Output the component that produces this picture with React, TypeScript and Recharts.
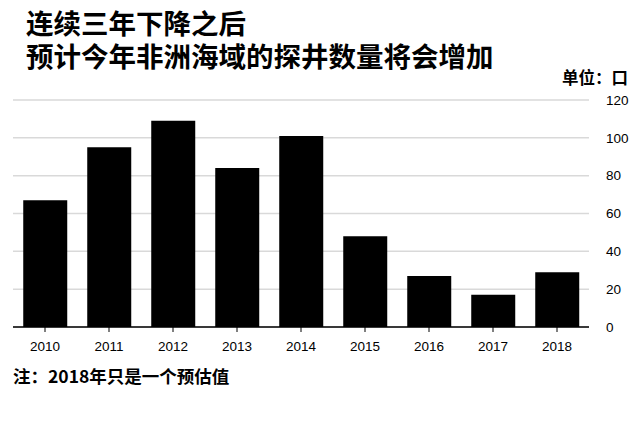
import { BarChart, Bar, XAxis, YAxis, CartesianGrid } from 'recharts';

const YEARS = ['2010', '2011', '2012', '2013', '2014', '2015', '2016', '2017', '2018'];
const WELLS = [67, 95, 109, 84, 101, 48, 27, 17, 29];
const Y_TICKS = [0, 20, 40, 60, 80, 100, 120];

const TITLE_1 = '连续三年下降之后';
const TITLE_2 = '预计今年非洲海域的探井数量将会增加';
const UNIT = '单位：口';
const NOTE = '注：2018年只是一个预估值';

const chartData = YEARS.map((year, i) => ({ year, wells: WELLS[i] }));

const cjk = '"Noto Sans CJK SC", "Noto Sans", sans-serif';
const latin = '"Liberation Sans", Arial, sans-serif';

export default function App() {
    return (
        <div style={{ position: 'absolute', left: 0, top: 0, width: 643, height: 424, background: '#fff', overflow: 'hidden' }}>
            <svg width={643} height={80} style={{ position: 'absolute', left: 0, top: 0 }}>
                <text x={26} y={34} fontFamily={cjk} fontWeight={700} fontSize={27.5} fill="#000">{TITLE_1}</text>
                <text x={26} y={67} fontFamily={cjk} fontWeight={700} fontSize={27.5} fill="#000">{TITLE_2}</text>
            </svg>
            <div style={{ position: 'absolute', left: 562, top: 65, fontFamily: cjk, fontWeight: 700, fontSize: 16.5, color: '#000' }}>
                {UNIT}
            </div>
            <BarChart
                width={643}
                height={424}
                data={chartData}
                margin={{ top: 100, right: 0, left: 13, bottom: 67 }}
                barCategoryGap="16%"
                style={{ position: 'absolute', left: 0, top: 0 }}
            >
                <CartesianGrid vertical={false} stroke="#d9d9d9" strokeWidth={1.5} />
                <XAxis
                    dataKey="year"
                    height={30}
                    axisLine={{ stroke: '#000', strokeWidth: 1.5 }}
                    tickLine={{ stroke: '#000' }}
                    tickSize={5}
                    tickMargin={9}
                    tick={{ fill: '#000', fontSize: 13.5, fontFamily: latin }}
                    interval={0}
                />
                <YAxis
                    orientation="right"
                    width={54}
                    domain={[0, 120]}
                    ticks={Y_TICKS}
                    axisLine={false}
                    tickLine={false}
                    tickMargin={11}
                    tick={{ fill: '#000', fontSize: 13.5, fontFamily: latin, textAnchor: 'start' }}
                />
                <Bar dataKey="wells" fill="#000" isAnimationActive={false} />
            </BarChart>
            <div style={{ position: 'absolute', left: 13, top: 363, fontFamily: cjk, fontWeight: 700, fontSize: 17.5, color: '#000' }}>
                {NOTE}
            </div>
        </div>
    );
}
